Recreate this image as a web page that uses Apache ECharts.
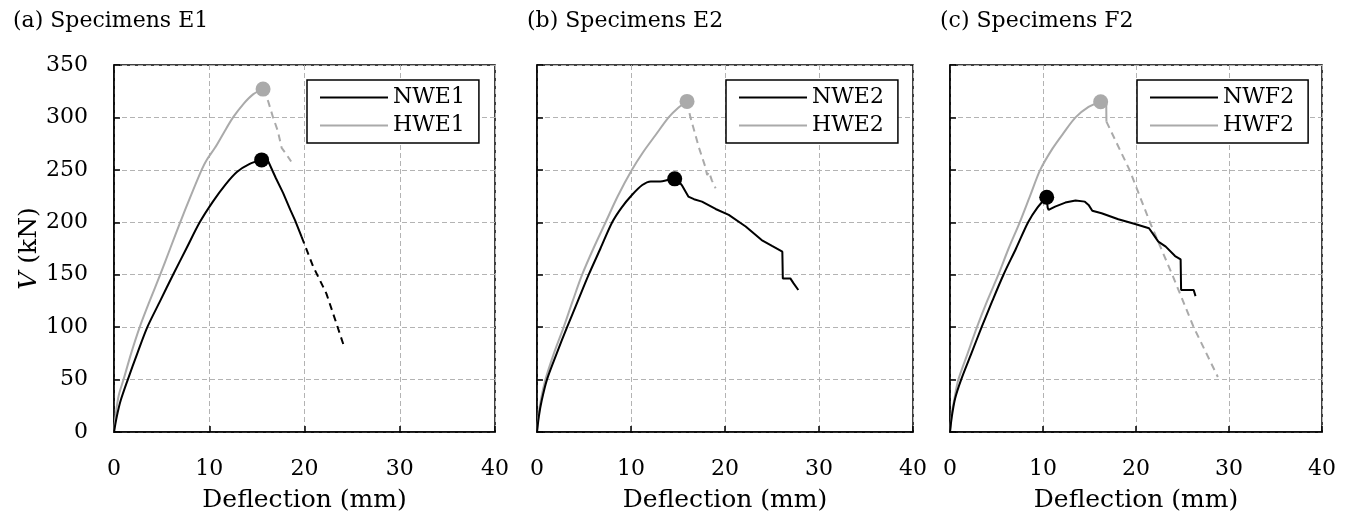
<!DOCTYPE html>
<html>
<head>
    <meta charset="utf-8">
    <title>Shear force vs deflection</title>
    <script src="https://cdn.jsdelivr.net/npm/echarts@6/dist/echarts.min.js"></script>
    <style type="text/css">
    html, body { margin: 0; padding: 0; background: #fff; }
    #main { width: 1348px; height: 520px; }
    </style>
</head>
<body>
    <div id="main"></div>
    <script type="text/javascript">
        // panel titles and legend names
        var panelTitles = ['(a) Specimens E1', '(b) Specimens E2', '(c) Specimens F2'];
        var nwNames = ['NWE1', 'NWE2', 'NWF2'];
        var hwNames = ['HWE1', 'HWE2', 'HWF2'];

        // axis ranges
        var xMin = 0, xMax = 40, xStep = 10;
        var yMin = 0, yMax = 350, yStep = 50;

        // (a) E1 : [deflection mm, V kN]
        var nwe1 = [[0,0],[0.3,15],[0.7,30],[1.45,50],[2.45,75],[3.5,100],[4.85,125],[6.2,150],[7.6,175],[9.0,200],[10.4,220],[11.7,236],[12.9,248],[14.2,255.5],[15.5,259.5]];
        var nwe1Post = [[15.5,259.5],[16.2,258],[17.0,242],[17.75,228],[18.5,212],[19.0,202],[19.7,186]];
        var nwe1Dash = [[19.7,186],[20.9,158],[22.3,132],[23.3,105],[24.1,83]];
        var hwe1 = [[0,0],[0.2,18],[0.5,35],[1.0,50],[1.8,75],[2.7,100],[3.75,125],[4.85,150],[5.9,175],[6.95,200],[8.05,225],[9.2,250],[9.7,259],[10.6,271],[11.5,285],[12.5,300],[13.6,313],[14.6,322],[15.65,327]];
        var hwe1Dash = [[15.65,327],[16.2,315],[16.7,300],[17.2,287],[17.6,271],[18.0,266],[18.6,258]];
        var peakNwe1 = [15.5, 259.5];
        var peakHwe1 = [15.65, 327];

        // (b) E2
        var nwe2 = [[0,0],[0.2,15],[0.5,30],[1.06,50],[2.1,75],[3.2,100],[4.35,125],[5.5,150],[6.75,175],[8.0,200],[9.0,214],[10.1,226],[11.2,235.5],[12.1,239],[13.1,239],[14.0,240.5],[14.65,241.4]];
        var nwe2Post = [[14.65,241.4],[15.0,240],[15.4,235.5],[16.1,224.5],[16.7,222],[17.55,219.7],[19.0,212.7],[20.4,207],[22.2,196],[23.9,183],[25.0,177.4],[26.1,172],[26.15,146.5],[26.95,146.5],[27.3,141.7],[27.8,135.4]];
        var hwe2 = [[0,0],[0.15,15],[0.4,30],[0.9,50],[1.8,75],[2.84,100],[3.8,125],[4.8,150],[6.0,175],[7.3,200],[8.6,225],[10.1,250],[11.3,267],[12.6,283],[14.0,300],[15.0,309],[15.96,315.3]];
        var hwe2Dash = [[15.96,315.3],[16.3,301],[16.8,285],[17.2,272],[17.9,253],[18.1,245],[18.3,248],[18.6,240],[19.0,232.5]];
        var peakNwe2 = [14.65, 241.4];
        var peakHwe2 = [15.96, 315.3];

        // (c) F2
        var nwf2 = [[0,0],[0.2,15],[0.55,32],[1.2,50],[2.3,75],[3.4,100],[4.55,125],[5.75,150],[7.1,175],[8.4,200],[9.4,214],[10.4,223.9]];
        var nwf2Post = [[10.4,223.9],[10.5,214],[10.6,211.8],[11.3,215],[12.4,218.8],[13.5,220.7],[14.5,219.7],[14.9,216.6],[15.3,211],[16.3,208.6],[18.1,202.9],[19.9,198.4],[21.4,194.3],[21.9,188],[22.4,181.5],[23.2,176.8],[24.2,167.8],[24.8,164.6],[24.85,135.4],[26.2,135.4],[26.4,129.6]];
        var hwf2 = [[0,0],[0.2,18],[0.5,33],[0.9,50],[1.9,75],[2.9,100],[4.0,125],[5.2,150],[6.3,175],[7.5,200],[8.6,225],[9.7,250],[11.0,270],[12.2,285],[13.5,300],[14.9,310],[16.2,315]];
        var hwf2Post = [[16.2,315],[16.8,313],[16.82,296]];
        var hwf2Dash = [[16.82,296],[19.3,250],[21.5,200],[23.9,150],[26.2,100],[28.8,52.5]];
        var peakNwf2 = [10.4, 223.9];
        var peakHwf2 = [16.2, 315];

        var nwRise = [nwe1, nwe2, nwf2];
        var nwPost = [nwe1Post, nwe2Post, nwf2Post];
        var nwDash = [nwe1Dash, null, null];
        var hwRise = [hwe1, hwe2, hwf2];
        var hwPost = [null, null, hwf2Post];
        var hwDash = [hwe1Dash, hwe2Dash, hwf2Dash];
        var nwPeak = [peakNwe1, peakNwe2, peakNwf2];
        var hwPeak = [peakHwe1, peakHwe2, peakHwf2];

        var FONT = 'DejaVu Serif';
        var BLACK = '#000000';
        var GREY = '#aaaaaa';

        // pixel layout of the three panels
        var grids = [
            {left: 114, top: 65, width: 381, height: 367},
            {left: 537, top: 65, width: 376, height: 367},
            {left: 950, top: 65, width: 372, height: 367}
        ];
        var titleLeft = [8, 522, 935];
        var legendLeft = [307, 726, 1137];

        var myChart = echarts.init(document.getElementById('main'));

        var option = {
            backgroundColor: '#fff',
            animation: false,
            title: [],
            legend: [],
            grid: [],
            xAxis: [],
            yAxis: [],
            series: []
        };

        function lineSeries(name, idx, data, color, dashed, smooth, z) {
            return {
                name: name, type: 'line', xAxisIndex: idx, yAxisIndex: idx,
                data: data, showSymbol: false, z: z,
                smooth: smooth,
                color: color,
                lineStyle: {color: color, width: 2, type: dashed ? [7, 5] : 'solid'}
            };
        }

        for (var i = 0; i < 3; i++) {
            option.title.push({
                text: panelTitles[i],
                left: titleLeft[i],
                top: 5,
                textStyle: {fontFamily: FONT, fontSize: 22, fontWeight: 'normal', color: BLACK}
            });
            option.grid.push({
                left: grids[i].left, top: grids[i].top,
                width: grids[i].width, height: grids[i].height,
                show: true, borderColor: BLACK, borderWidth: 1.5,
                backgroundColor: 'transparent',
                outerBoundsMode: 'none'
            });
            option.xAxis.push({
                gridIndex: i,
                type: 'value',
                min: xMin, max: xMax, interval: xStep,
                name: 'Deflection (mm)',
                nameLocation: 'middle',
                nameGap: 56,
                nameTextStyle: {fontFamily: FONT, fontSize: 25, color: BLACK},
                axisLine: {show: true, lineStyle: {color: BLACK, width: 1.5}},
                axisTick: {show: true, inside: true, length: 6, lineStyle: {color: BLACK, width: 1.5}},
                axisLabel: {fontFamily: FONT, fontSize: 22, color: BLACK, margin: 26},
                splitLine: {show: true, lineStyle: {color: '#b3b3b3', width: 1, type: [5, 3]}}
            });
            option.yAxis.push({
                gridIndex: i,
                type: 'value',
                min: yMin, max: yMax, interval: yStep,
                name: i === 0 ? '{i|V} (kN)' : '',
                nameLocation: 'middle',
                nameGap: 70,
                nameRotate: 90,
                nameTextStyle: {
                    fontFamily: FONT, fontSize: 25, color: BLACK,
                    rich: {i: {fontFamily: FONT, fontSize: 25, fontStyle: 'italic', color: BLACK}}
                },
                axisLine: {show: true, lineStyle: {color: BLACK, width: 1.5}},
                axisTick: {show: true, inside: true, length: 6, lineStyle: {color: BLACK, width: 1.5}},
                axisLabel: {show: i === 0, fontFamily: FONT, fontSize: 22, color: BLACK, margin: 26},
                splitLine: {show: true, lineStyle: {color: '#b3b3b3', width: 1, type: [5, 3]}}
            });
            option.legend.push({
                orient: 'vertical',
                left: legendLeft[i],
                top: 80,
                data: [nwNames[i], hwNames[i]],
                icon: 'rect',
                itemWidth: 68,
                itemHeight: 2,
                itemGap: 3,
                padding: [5, 14, 5, 13],
                borderColor: BLACK,
                borderWidth: 1.5,
                backgroundColor: '#fff',
                selectedMode: false,
                textStyle: {fontFamily: FONT, fontSize: 22, color: BLACK, lineHeight: 25}
            });

            // rising branches are smooth, post-peak branches stay jagged
            option.series.push(lineSeries(hwNames[i], i, hwRise[i], GREY, false, 0.3, 2));
            if (hwPost[i]) option.series.push(lineSeries(hwNames[i] + ' post', i, hwPost[i], GREY, false, false, 2));
            option.series.push(lineSeries(hwNames[i] + ' dash', i, hwDash[i], GREY, true, false, 2));
            option.series.push(lineSeries(nwNames[i], i, nwRise[i], BLACK, false, 0.3, 3));
            option.series.push(lineSeries(nwNames[i] + ' post', i, nwPost[i], BLACK, false, false, 3));
            if (nwDash[i]) option.series.push(lineSeries(nwNames[i] + ' dash', i, nwDash[i], BLACK, true, false, 3));

            option.series.push({
                name: hwNames[i] + ' peak', type: 'scatter', xAxisIndex: i, yAxisIndex: i,
                data: [hwPeak[i]], symbolSize: 15, z: 4,
                itemStyle: {color: GREY, opacity: 1}
            });
            option.series.push({
                name: nwNames[i] + ' peak', type: 'scatter', xAxisIndex: i, yAxisIndex: i,
                data: [nwPeak[i]], symbolSize: 15, z: 5,
                itemStyle: {color: BLACK, opacity: 1}
            });
        }

        myChart.setOption(option);
    </script>
</body>
</html>
